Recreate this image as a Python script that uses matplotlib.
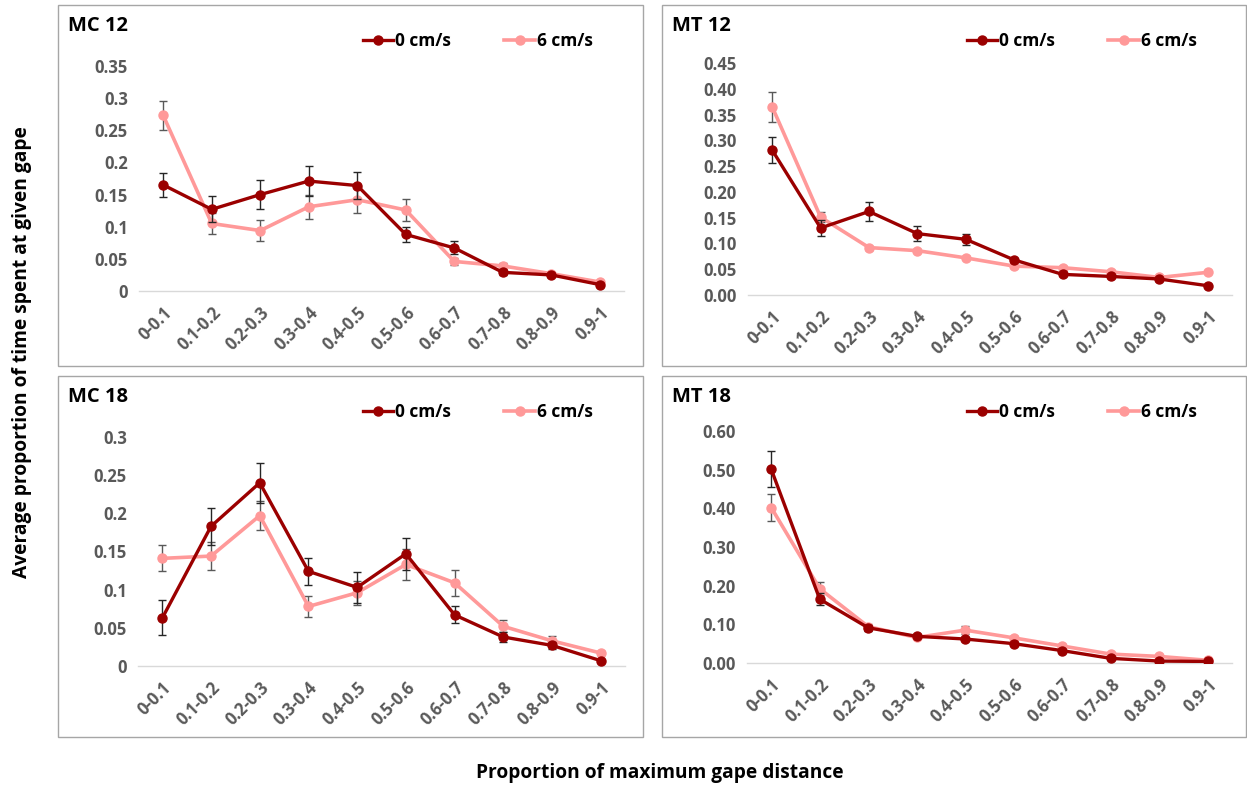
import numpy as np
import matplotlib
matplotlib.use('Agg')
import matplotlib.pyplot as plt
from matplotlib.patches import Rectangle
from matplotlib.lines import Line2D

plt.rcParams['font.family'] = ['Open Sans', 'DejaVu Sans']
plt.rcParams['font.weight'] = 'bold'

# Categories (gape bins)
bins = ['0-0.1', '0.1-0.2', '0.2-0.3', '0.3-0.4', '0.4-0.5',
        '0.5-0.6', '0.6-0.7', '0.7-0.8', '0.8-0.9', '0.9-1']

# MC 12
mc12_0 = [0.165, 0.127, 0.150, 0.171, 0.164, 0.088, 0.067, 0.029, 0.025, 0.010]
mc12_0_err = [0.019, 0.020, 0.022, 0.024, 0.021, 0.012, 0.010, 0.004, 0.003, 0.002]
mc12_6 = [0.273, 0.105, 0.094, 0.131, 0.142, 0.126, 0.046, 0.039, 0.027, 0.014]
mc12_6_err = [0.023, 0.016, 0.017, 0.019, 0.020, 0.017, 0.005, 0.005, 0.003, 0.002]

# MT 12
mt12_0 = [0.281, 0.130, 0.162, 0.119, 0.108, 0.068, 0.040, 0.036, 0.031, 0.018]
mt12_0_err = [0.025, 0.016, 0.018, 0.014, 0.011, 0.004, 0.003, 0.003, 0.003, 0.002]
mt12_6 = [0.365, 0.151, 0.092, 0.086, 0.072, 0.056, 0.053, 0.045, 0.034, 0.044]
mt12_6_err = [0.029, 0.010, 0.004, 0.003, 0.003, 0.003, 0.003, 0.003, 0.003, 0.002]

# MC 18
mc18_0 = [0.063, 0.183, 0.240, 0.124, 0.103, 0.147, 0.067, 0.038, 0.027, 0.007]
mc18_0_err = [0.023, 0.024, 0.026, 0.018, 0.020, 0.021, 0.011, 0.006, 0.005, 0.001]
mc18_6 = [0.141, 0.144, 0.197, 0.078, 0.096, 0.133, 0.109, 0.052, 0.033, 0.017]
mc18_6_err = [0.017, 0.018, 0.019, 0.014, 0.016, 0.020, 0.017, 0.008, 0.006, 0.002]

# MT 18
mt18_0 = [0.501, 0.165, 0.091, 0.069, 0.062, 0.050, 0.032, 0.012, 0.005, 0.004]
mt18_0_err = [0.046, 0.015, 0.008, 0.005, 0.005, 0.004, 0.003, 0.002, 0.001, 0.001]
mt18_6 = [0.402, 0.192, 0.094, 0.066, 0.085, 0.065, 0.044, 0.023, 0.017, 0.007]
mt18_6_err = [0.035, 0.017, 0.008, 0.005, 0.011, 0.006, 0.004, 0.003, 0.003, 0.002]

DARK = '#9b0000'
PINK = '#ff9999'
GRAY = '#595959'

W, H = 1247, 789
fig = plt.figure(figsize=(W / 100, H / 100), dpi=100)


def fx(px):
    return px / W


def fy(py):
    return 1 - py / H


# panel boxes (left, top, right, bottom in pixels)
boxes = [(58, 5, 643, 366), (662, 5, 1246, 366),
         (58, 376, 643, 737), (662, 376, 1246, 737)]
# plot areas
areas = [(139, 66, 624, 291), (748, 63, 1232, 295),
         (138, 437, 625, 666), (747, 431, 1232, 663)]

panels = [
    ('MC 12', mc12_0, mc12_0_err, mc12_6, mc12_6_err,
     [0, 0.05, 0.1, 0.15, 0.2, 0.25, 0.3, 0.35], ['0', '0.05', '0.1', '0.15', '0.2', '0.25', '0.3', '0.35']),
    ('MT 12', mt12_0, mt12_0_err, mt12_6, mt12_6_err,
     list(np.arange(0, 0.46, 0.05)), ['%.2f' % v for v in np.arange(0, 0.46, 0.05)]),
    ('MC 18', mc18_0, mc18_0_err, mc18_6, mc18_6_err,
     [0, 0.05, 0.1, 0.15, 0.2, 0.25, 0.3], ['0', '0.05', '0.1', '0.15', '0.2', '0.25', '0.3']),
    ('MT 18', mt18_0, mt18_0_err, mt18_6, mt18_6_err,
     list(np.arange(0, 0.61, 0.1)), ['%.2f' % v for v in np.arange(0, 0.61, 0.1)]),
]

x = np.arange(len(bins))

for i, (name, s0, e0, s6, e6, yt, ytl) in enumerate(panels):
    l, t, r, b = boxes[i]
    fig.patches.append(Rectangle((fx(l), fy(b)), fx(r - l), (b - t) / H,
                                 transform=fig.transFigure, fill=False,
                                 edgecolor='#a6a6a6', linewidth=1))
    fig.text(fx(l + 10), fy(t + 21), name, fontsize=14.5, fontweight='bold',
             color='black', va='center', ha='left')

    al, at, ar, ab = areas[i]
    ax = fig.add_axes([fx(al), fy(ab), fx(ar - al), (ab - at) / H])
    ax.errorbar(x, s0, yerr=e0, color=DARK, lw=2.4, marker='o', ms=6.5,
                ecolor='#262626', elinewidth=1, capsize=3, capthick=1,
                zorder=3)
    ax.errorbar(x, s6, yerr=e6, color=PINK, lw=2.6, marker='o', ms=6.5,
                ecolor='#595959', elinewidth=1, capsize=3, capthick=1,
                zorder=2)
    ax.set_xlim(-0.5, len(bins) - 0.5)
    ax.set_ylim(0, yt[-1])
    ax.set_yticks(yt)
    ax.set_yticklabels(ytl)
    ax.set_xticks(x)
    ax.set_xticklabels(bins, rotation=45, ha='right', rotation_mode='anchor')
    for s in ['top', 'right', 'left']:
        ax.spines[s].set_visible(False)
    ax.spines['bottom'].set_color('#d9d9d9')
    ax.spines['bottom'].set_linewidth(1)
    ax.tick_params(axis='both', length=0, labelsize=12, labelcolor=GRAY)
    ax.tick_params(axis='y', pad=8)
    ax.tick_params(axis='x', pad=9)
    for lab in ax.get_xticklabels() + ax.get_yticklabels():
        lab.set_fontweight('bold')
    ax.patch.set_alpha(0)

    handles = [Line2D([], [], color=DARK, lw=2.4, marker='o', ms=6.5),
               Line2D([], [], color=PINK, lw=2.6, marker='o', ms=6.5)]
    leg = ax.legend(handles, ['0 cm/s', '6 cm/s'], loc='center left',
                    bbox_to_anchor=(fx(l + 296), fy(t + 36)),
                    bbox_transform=fig.transFigure, ncol=2, frameon=False,
                    fontsize=12.5, handlelength=1.75, handletextpad=0.1,
                    columnspacing=3.1, borderpad=0)
    for txt in leg.get_texts():
        txt.set_fontweight('bold')

fig.text(fx(22), fy(352), 'Average proportion of time spent at given gape',
         rotation=90, ha='center', va='center', fontsize=13.8,
         fontweight='bold', color='black')
fig.text(fx(660), fy(773), 'Proportion of maximum gape distance',
         ha='center', va='center', fontsize=13.8, fontweight='bold',
         color='black')

fig.savefig('out.png', dpi=100)
